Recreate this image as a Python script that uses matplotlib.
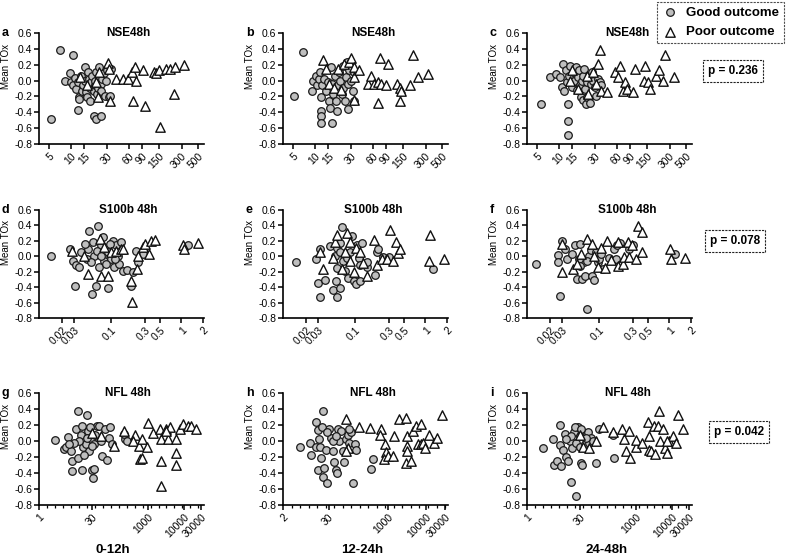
import matplotlib
matplotlib.use("Agg")
import matplotlib.pyplot as plt
import matplotlib.ticker as mticker
import numpy as np

plt.rcParams['font.family'] = ['Liberation Sans', 'DejaVu Sans']
plt.rcParams['axes.unicode_minus'] = False

# ---------------- data ----------------
# row 1: NSE48h
a_good_x = [5.4, 7.1, 10.7, 8.3, 9.5, 10.0, 10.5, 11.1, 11.6, 12.2, 12.6, 12.9, 12.5, 13.6, 14.0, 14.3, 15.1, 15.5, 15.9, 16.2,
            16.7, 17.2, 17.6, 17.9, 18.5, 19.1, 19.9, 20.5, 21.1, 21.6, 22.0, 22.7, 23.4, 23.9, 24.7, 25.2, 26.0, 27.1, 27.9, 28.8,
            30.0, 31.9, 33.3, 34.3, 20.1, 21.6, 24.7]
a_good_y = [-0.48, 0.38, 0.32, 0.0, 0.09, -0.02, -0.06, 0.03, -0.11, -0.02, -0.21, -0.23, -0.37, 0.06, -0.13, -0.06, 0.0, 0.17, -0.15, -0.21,
            0.11, 0.02, -0.09, -0.26, -0.02, 0.06, -0.13, -0.06, 0.0, 0.11, -0.17, -0.09, 0.17, 0.04, -0.04, -0.13, 0.02, 0.09, -0.19, 0.0,
            0.13, -0.21, -0.19, 0.15, -0.45, -0.48, -0.45]
a_poor_x = [31.0, 32.5, 33.3, 23.9, 22.7, 13.3, 16.2, 21.6, 40.1, 50.1, 57.4, 65.7, 70.6, 74.4, 67.1, 91.4, 96.2, 127, 138, 148,
            156, 188, 208, 236, 248, 324]
a_poor_y = [0.22, 0.14, -0.26, 0.11, -0.21, 0.05, -0.05, -0.02, 0.02, 0.02, 0.02, 0.11, 0.17, 0.0, -0.26, 0.13, -0.32, 0.11, 0.09, 0.13,
            -0.59, 0.14, 0.15, -0.17, 0.17, 0.20]

b_good_x = [5.2, 6.9, 9.4, 9.1, 10.1, 10.7, 11.2, 11.6, 11.8, 12.1, 12.1, 12.1, 12.5, 13.1, 13.8, 14.6, 15.3, 15.8, 16.1, 17.0,
            17.0, 17.5, 18.3, 18.9, 19.5, 20.3, 20.9, 21.6, 22.5, 23.2, 23.9, 25.0, 25.7, 26.6, 27.1, 27.7, 28.6, 30.1, 31.7, 32.7, 33.4]
b_good_y = [-0.19, 0.36, 0.0, -0.13, 0.06, -0.06, 0.02, 0.11, -0.21, -0.38, -0.45, -0.53, -0.06, 0.02, -0.13, -0.02, -0.26, -0.34, 0.17, -0.53,
            -0.04, -0.17, 0.06, -0.26, -0.38, -0.06, 0.11, 0.0, -0.17, 0.19, -0.09, -0.26, 0.04, 0.23, -0.36, -0.04, 0.13, 0.0, -0.13, -0.26, 0.11]
b_poor_x = [12.8, 13.8, 15.3, 17.9, 19.9, 21.9, 24.4, 28.6, 30, 32.7, 33.4, 32.7, 39, 50.5, 56, 62, 69, 73, 77, 69,
            89, 94, 124, 135, 143, 135, 185, 201, 239, 327]
b_poor_y = [0.26, 0.15, -0.04, -0.09, 0.15, -0.12, 0.21, 0.23, 0.29, 0.17, 0.04, -0.24, 0.13, -0.04, 0.06, -0.04, -0.02, 0.28, -0.04, -0.28,
            -0.06, 0.21, -0.04, -0.09, -0.13, -0.26, -0.06, 0.32, 0.04, 0.08]

c_good_x = [5.7, 7.5, 9.0, 10.2, 10.8, 11.3, 11.7, 12.2, 12.6, 13.2, 13.2, 13.2, 13.5, 13.9, 14.6, 15.4, 15.9, 16.6, 17.1, 17.6,
            18.3, 18.9, 19.5, 19.9, 20.5, 20.9, 21.6, 22.0, 22.5, 23.2, 23.9, 24.9, 25.7, 26.5, 27.6, 28.5, 30.0, 31.5, 33.2, 34.9, 36.8]
c_good_y = [-0.30, 0.05, 0.08, 0.04, -0.08, 0.21, -0.13, 0.13, -0.02, -0.30, -0.51, -0.69, 0.06, 0.19, -0.08, 0.11, 0.0, 0.17, -0.12, 0.04,
            0.13, -0.06, -0.21, 0.0, -0.25, 0.06, 0.15, -0.11, -0.30, -0.02, -0.21, 0.06, -0.28, -0.04, 0.11, 0.0, -0.08, -0.19, 0.02, -0.02, -0.06]
c_poor_x = [13.9, 14.6, 18.0, 23.2, 24.4, 28.5, 31.5, 33.2, 34.9, 36.8, 44.2, 55.4, 61.4, 64.6, 71.6, 75.3, 81.7, 97.3, 102, 136,
            139, 154, 162, 199, 220, 244, 257, 343]
c_poor_y = [0.0, 0.13, -0.11, 0.06, -0.17, 0.11, -0.04, 0.21, 0.38, -0.13, -0.15, 0.11, 0.04, 0.19, -0.13, -0.02, -0.11, -0.15, 0.14, 0.0,
            0.19, -0.02, -0.11, 0.06, 0.13, 0.0, 0.32, 0.05]

# row 2: S100b 48h
d_good_x = [0.0139, 0.0262, 0.0283, 0.0316, 0.0353, 0.0373, 0.0306, 0.049, 0.0645, 0.053, 0.061, 0.0916, 0.0547, 0.0464, 0.0454,
            0.072, 0.0803, 0.1056, 0.118, 0.1245, 0.139, 0.1116, 0.068, 0.0578, 0.0896, 0.076, 0.1, 0.147, 0.169, 0.204,
            0.193, 0.24, 0.228, 0.284, 1.25, 0.042, 0.052, 0.085, 0.131, 0.063, 0.095, 0.114, 0.072]
d_good_y = [0.0, 0.09, -0.06, -0.11, -0.14, 0.05, -0.38, 0.33, 0.39, -0.49, -0.38, -0.41, 0.18, 0.1, -0.03,
            0.14, -0.06, 0.2, 0.14, 0.01, 0.18, -0.14, -0.14, 0.0, 0.05, 0.25, -0.03, -0.19, -0.18, -0.2,
            -0.38, -0.08, 0.07, 0.03, 0.15, 0.16, -0.08, -0.1, -0.1, 0.07, 0.16, -0.03, 0.0]
d_poor_x = [0.028, 0.041, 0.047, 0.07, 0.072, 0.09, 0.1, 0.118, 0.139, 0.08, 0.15, 0.19, 0.2, 0.235, 0.24, 0.28, 0.3, 0.35, 0.37, 0.42,
            1.06, 1.09, 1.73]
d_poor_y = [0.07, 0.0, -0.23, 0.23, -0.25, -0.25, 0.06, 0.07, 0.1, 0.12, 0.1, -0.32, -0.59, -0.17, 0.0, 0.12, 0.16, 0.03, 0.2, 0.21,
            0.14, 0.09, 0.17]

e_good_x = [0.0144, 0.028, 0.03, 0.032, 0.037, 0.032, 0.044, 0.048, 0.056, 0.054, 0.061, 0.064, 0.052, 0.056, 0.06, 0.068, 0.072, 0.08, 0.085,
            0.09, 0.095, 0.103, 0.106, 0.112, 0.118, 0.124, 0.118, 0.147, 0.076, 0.055, 0.061, 0.193, 0.204, 0.215, 0.25, 0.3, 1.29, 0.15]
e_good_y = [-0.07, -0.04, -0.34, -0.53, -0.31, 0.1, 0.13, -0.44, -0.53, -0.32, -0.41, 0.38, 0.0, 0.11, 0.17, -0.06, -0.19, -0.28, 0.06,
            0.26, -0.32, -0.36, 0.15, -0.02, -0.32, 0.17, -0.11, -0.14, -0.02, -0.15, 0.06, -0.24, 0.06, 0.09, -0.01, -0.01, -0.16, -0.07]
e_poor_x = [0.032, 0.035, 0.052, 0.056, 0.076, 0.064, 0.072, 0.085, 0.095, 0.103, 0.118, 0.13, 0.147, 0.187, 0.204, 0.24, 0.28, 0.31,
            0.345, 0.385, 0.41, 0.44, 1.11, 1.18, 1.83, 0.085, 0.049]
e_poor_y = [0.06, -0.17, 0.19, 0.28, 0.3, -0.17, 0.06, 0.19, -0.21, 0.11, 0.06, -0.09, -0.26, 0.21, -0.11, -0.04, -0.04, 0.34,
            -0.06, 0.18, 0.04, 0.09, -0.06, 0.28, -0.03, -0.06, -0.02]

f_good_x = [0.0125, 0.026, 0.026, 0.03, 0.028, 0.033, 0.035, 0.041, 0.046, 0.054, 0.048, 0.057, 0.062, 0.068, 0.08, 0.085, 0.06, 0.072,
            0.076, 0.09, 0.095, 0.1, 0.106, 0.112, 0.068, 0.051, 0.14, 0.165, 0.175, 0.18, 0.2, 0.27, 0.3, 1.22, 0.054]
f_good_y = [-0.1, 0.02, -0.08, 0.2, -0.51, 0.09, -0.04, 0.03, 0.15, 0.16, -0.29, -0.29, -0.25, -0.68, -0.25, -0.31, -0.08, 0.01,
            0.08, 0.05, -0.08, -0.03, 0.03, -0.16, -0.06, -0.03, -0.02, 0.09, -0.03, 0.15, 0.17, 0.09, 0.14, 0.03, -0.12]
f_poor_x = [0.03, 0.03, 0.043, 0.048, 0.056, 0.068, 0.08, 0.085, 0.095, 0.106, 0.12, 0.13, 0.185, 0.185, 0.218, 0.225, 0.26, 0.29,
            0.27, 0.33, 0.36, 0.41, 0.41, 1.01, 1.06, 1.67, 0.15]
f_poor_y = [0.16, -0.21, -0.16, -0.1, 0.03, 0.22, 0.16, 0.01, -0.14, 0.11, -0.15, 0.2, 0.18, -0.12, -0.1, -0.01, 0.18, 0.14,
            -0.01, -0.03, 0.39, 0.31, 0.06, 0.09, -0.03, -0.02, -0.05]

# row 3: NFL 48h
g_good_x = [2.8, 5, 5.6, 6.2, 7.6, 8, 8.4, 10.4, 11.6, 12, 14.3, 15, 16.9, 19.6, 20.8, 22.6, 24, 26.7, 28.5, 31.6,
            33, 34, 40, 45, 50, 55, 68, 76, 85, 94, 104, 13, 15.8, 9.4, 17.6, 25.6, 36, 21.7, 29.6, 6.9, 240, 225, 265]
g_good_y = [0.01, -0.1, -0.08, 0.05, -0.13, -0.25, -0.38, 0.15, -0.21, 0.38, 0.08, -0.36, -0.08, -0.04, 0.32, 0.13, -0.13, 0.02, -0.36, -0.46,
            -0.35, -0.04, 0.19, 0.19, 0.0, -0.19, 0.15, -0.24, 0.04, 0.18, -0.04, 0.0, 0.19, -0.02, -0.17, 0.17, 0.08, 0.04, -0.06, -0.04,
            0.03, 0.09, 0.0]
g_poor_x = [30, 50, 120, 225, 450, 405, 560, 680, 600, 720, 985, 1050, 1400, 2200, 2300, 2400, 2300, 3300, 3700, 4200,
            6200, 6200, 6000, 7600, 9400, 12800, 15800, 21500, 3200]
g_poor_y = [0.1, 0.06, -0.06, 0.12, 0.08, 0.0, -0.06, 0.02, -0.23, -0.21, -0.08, 0.23, 0.1, 0.15, 0.02, -0.25, -0.56, 0.15, 0.03, 0.17,
            0.02, -0.15, -0.3, 0.15, 0.21, 0.19, 0.19, 0.15, 0.12]

h_good_x = [5.6, 9.7, 10.3, 13.8, 14.4, 15.8, 15.8, 17.4, 18, 19.2, 21, 22, 23, 27, 25.6, 31, 34, 38, 42, 46,
            48, 51, 57, 63, 69, 76, 84, 93, 103, 113, 125, 146, 153, 20, 28, 38, 46, 370, 410, 103]
h_good_y = [-0.08, -0.03, -0.18, -0.08, 0.24, 0.14, -0.36, 0.02, -0.08, -0.21, -0.45, 0.38, -0.34, -0.53, -0.11, 0.15, 0.04, -0.13, -0.26, -0.36,
            -0.4, 0.15, 0.0, 0.13, -0.13, -0.26, 0.02, 0.08, -0.02, 0.11, -0.53, -0.04, -0.11, 0.17, 0.11, 0.0, 0.06, -0.35, -0.22, 0.15]
h_poor_x = [84, 93, 84, 185, 350, 660, 630, 860, 900, 800, 1050, 1370, 1450, 1950, 2900, 3200, 3200, 3200, 3000, 3900,
            4600, 5400, 5900, 7100, 7100, 8000, 9400, 11600, 15500, 18800, 24500]
h_poor_y = [0.28, -0.09, -0.12, 0.17, 0.16, 0.15, 0.08, -0.04, -0.14, -0.23, -0.19, -0.19, 0.06, 0.28, 0.29, -0.06, 0.06, -0.13, -0.28, -0.25,
            0.13, 0.19, -0.04, 0.21, -0.04, -0.02, -0.09, 0.08, -0.03, 0.04, 0.32]

i_good_x = [2.85, 5.1, 5.6, 6.8, 8.4, 8.6, 8.1, 10, 11, 12.3, 13.7, 15.2, 15.9, 18, 19.5, 22, 23, 25.6, 28.5, 31.6,
            33, 35, 39, 48, 53, 59, 66, 78, 100, 256, 230, 16.8, 21, 12.3, 28.5, 43, 31.6]
i_good_y = [-0.09, 0.03, -0.3, -0.25, 0.2, -0.31, -0.05, -0.11, 0.09, -0.2, -0.25, 0.0, -0.51, -0.09, 0.11, -0.02, -0.69, 0.17, -0.08, -0.28,
            -0.3, 0.06, -0.04, 0.11, -0.02, 0.04, 0.0, -0.28, 0.15, -0.21, 0.08, 0.06, 0.17, 0.02, 0.06, 0.04, 0.15]
i_poor_x = [28.5, 35, 53, 81, 123, 230, 430, 480, 530, 660, 690, 1000, 1050, 1500, 2200, 2300, 2300, 2600, 3200, 3500,
            4300, 4200, 4800, 5700, 6300, 7300, 8400, 11100, 12800, 15000, 20800, 7300]
i_poor_y = [0.08, -0.08, -0.09, 0.0, 0.17, 0.11, 0.15, 0.02, -0.12, 0.12, -0.21, -0.08, 0.01, -0.02, 0.24, 0.06, -0.11, -0.13, 0.19, -0.16,
            0.38, 0.19, 0.0, 0.15, -0.09, -0.15, 0.0, 0.06, -0.02, 0.32, 0.15, 0.0]

titles = ["NSE48h", "S100b 48h", "NFL 48h"]
letters = ["a", "b", "c", "d", "e", "f", "g", "h", "i"]
row1_ticks = [5, 10, 15, 30, 60, 90, 150, 300, 500]
row2_ticks = [0.02, 0.03, 0.1, 0.3, 0.5, 1, 2]
row3_ticks_1 = [1, 30, 1000, 10000, 30000]
row3_ticks_2 = [2, 30, 1000, 10000, 30000]
y_ticks = [-0.8, -0.6, -0.4, -0.2, 0.0, 0.2, 0.4, 0.6]
y_ticklabels = ["-0.8", "-0.6", "-0.4", "-0.2", "0.0", "0.2", "0.4", "0.6"]
p_values = ["p = 0.236", "p = 0.078", "p = 0.042"]
time_windows = ["0-12h", "12-24h", "24-48h"]

# ---------------- figure ----------------
W, H = 787, 555
fig = plt.figure(figsize=(W / 100, H / 100), dpi=100)

col_left = [39, 283, 527]
ax_w = 165
rows = [(33, 144), (210, 318), (393, 505)]
title_x = [0.54, 0.545, 0.61]

panels = [
    (a_good_x, a_good_y, a_poor_x, a_poor_y, row1_ticks, (3.7, 600), False),
    (b_good_x, b_good_y, b_poor_x, b_poor_y, row1_ticks, (3.7, 600), False),
    (c_good_x, c_good_y, c_poor_x, c_poor_y, row1_ticks, (3.7, 600), False),
    (d_good_x, d_good_y, d_poor_x, d_poor_y, row2_ticks, (0.0094, 2.1), False),
    (e_good_x, e_good_y, e_poor_x, e_poor_y, row2_ticks, (0.0094, 2.1), False),
    (f_good_x, f_good_y, f_poor_x, f_poor_y, row2_ticks, (0.0094, 2.1), False),
    (g_good_x, g_good_y, g_poor_x, g_poor_y, row3_ticks_1, (1, 36000), True),
    (h_good_x, h_good_y, h_poor_x, h_poor_y, row3_ticks_2, (2, 36000), True),
    (i_good_x, i_good_y, i_poor_x, i_poor_y, row3_ticks_1, (1, 36000), True),
]

handles = None
for k, (gx, gy, px, py, xt, xl, minor) in enumerate(panels):
    r, c = divmod(k, 3)
    top, bot = rows[r]
    ax = fig.add_axes([col_left[c] / W, 1 - bot / H, ax_w / W, (bot - top) / H])
    hg = ax.scatter(gx, gy, s=30, marker='o', facecolor='#bfbfbf', edgecolor='#1a1a1a',
                    linewidths=0.9, zorder=3, clip_on=False)
    hp = ax.scatter(px, py, s=46, marker='^', facecolor='white', edgecolor='#111111',
                    linewidths=1.0, zorder=4, clip_on=False)
    if handles is None:
        handles = [hg, hp]
    ax.set_xscale('log')
    ax.set_xlim(*xl)
    ax.set_ylim(-0.8, 0.6)
    ax.set_yticks(y_ticks)
    ax.set_yticklabels(y_ticklabels)
    ax.set_xticks(xt)
    ax.set_xticklabels([f"{t:g}" for t in xt], rotation=45, ha='right', rotation_mode='anchor')
    ax.xaxis.set_minor_formatter(mticker.NullFormatter())
    if minor:
        lo, hi = np.log10(xl[0]), np.log10(xl[1])
        ax.xaxis.set_minor_locator(mticker.FixedLocator(10 ** np.arange(lo, hi, 0.22)))
        ax.tick_params(axis='x', which='minor', length=2.5, width=0.9)
    else:
        ax.xaxis.set_minor_locator(mticker.NullLocator())
    for s in ['top', 'right']:
        ax.spines[s].set_visible(False)
    for s in ['left', 'bottom']:
        ax.spines[s].set_linewidth(1.2)
    ax.tick_params(axis='both', which='major', direction='out', length=3.5, width=1.1,
                   labelsize=7.5, pad=1.5)
    ax.set_ylabel("Mean TOx", fontsize=7)
    ax.yaxis.set_label_coords(-0.17, 0.70)
    ax.text(title_x[c], 1.0, titles[r], transform=ax.transAxes, ha='center', va='center',
            fontsize=8.5, fontweight='bold')
    ax.text(-0.225, 1.0, letters[k], transform=ax.transAxes, ha='left', va='center',
            fontsize=9, fontweight='bold')

# legend box top right
leg = fig.legend(handles, ["Good outcome", "Poor outcome"], loc='upper right',
                 bbox_to_anchor=(784 / W, 1 - 2 / H), frameon=True, fancybox=False,
                 prop={'size': 9.5, 'weight': 'bold'}, handletextpad=0.6, borderpad=0.35,
                 labelspacing=0.55, handlelength=1.3, borderaxespad=0)
leg.get_frame().set_edgecolor('#222222')
leg.get_frame().set_linestyle((0, (2, 1)))
leg.get_frame().set_linewidth(0.8)

# p-value boxes
p_pos = [(733, 71), (735, 241), (739, 432)]
for txt, (px_, py_) in zip(p_values, p_pos):
    fig.text(px_ / W, 1 - py_ / H, txt, ha='center', va='center', fontsize=8.5, fontweight='bold',
             bbox=dict(boxstyle='square,pad=0.4', fc='white', ec='#222222', ls=(0, (2, 1)), lw=0.8))

# time window labels under columns
for txt, xc in zip(time_windows, [113, 362, 607]):
    fig.text(xc / W, 1 - 550 / H, txt, ha='center', va='center', fontsize=9.5, fontweight='bold')

fig.savefig("out.png", dpi=100)
